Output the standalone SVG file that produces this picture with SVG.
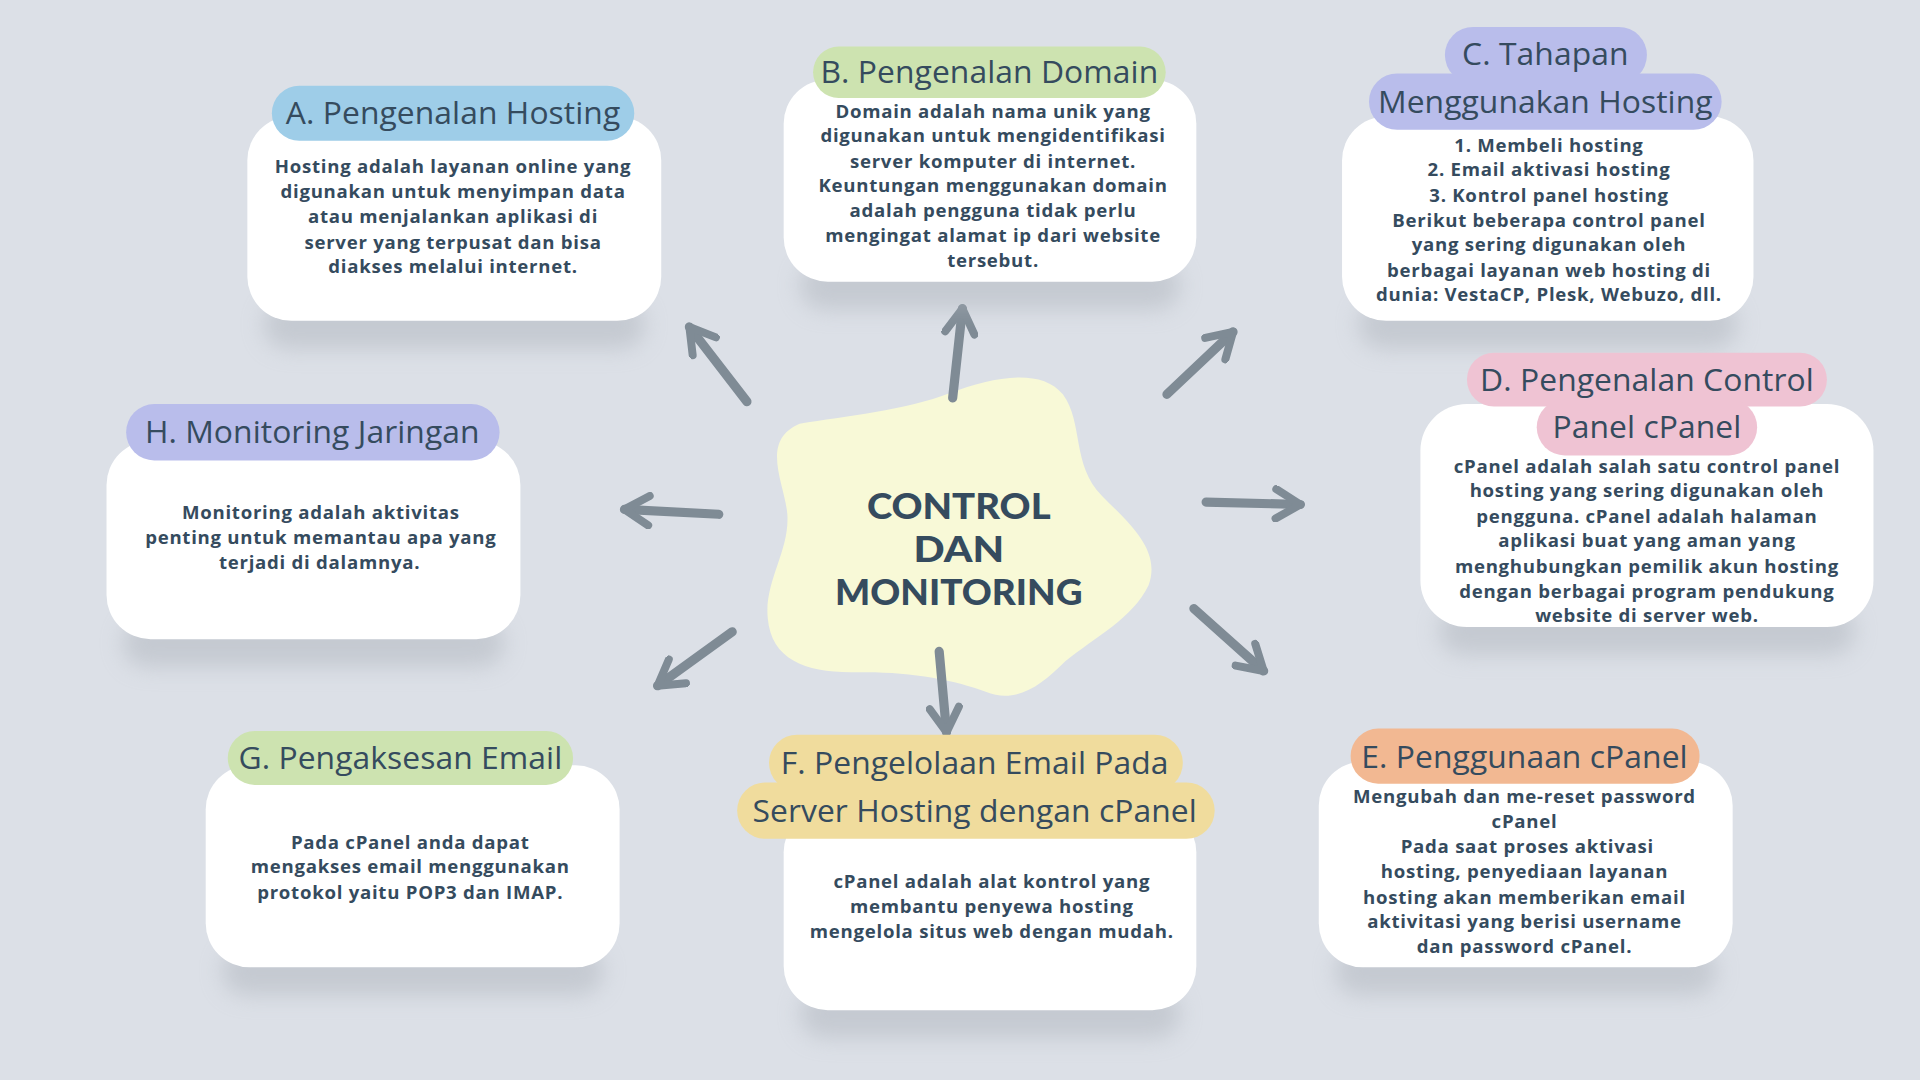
<svg xmlns="http://www.w3.org/2000/svg" width="1920" height="1080" viewBox="0 0 1920 1080">
<defs>
<style>
.card{fill:#ffffff}
.shadow{fill:#aeb4bc;opacity:0.5;filter:url(#blur)}
.title{font-family:"Open Sans","Noto Sans",sans-serif;font-size:26px;font-weight:400;letter-spacing:0.05px;fill:#354b5e;text-anchor:middle}
.body{font-family:"Open Sans","Noto Sans",sans-serif;font-size:15.2px;font-weight:700;letter-spacing:0.6px;fill:#354b5e;text-anchor:middle}
.center{font-family:"Lato","Open Sans",sans-serif;font-size:29px;font-weight:900;fill:#354b5e;text-anchor:middle}
.arrow{fill:none;stroke:#7f8b95;stroke-width:7.5;stroke-linecap:round;stroke-linejoin:round}
.pa{fill:#9ecde8}.pb{fill:#cde3b0}.pc{fill:#b9bdeb}.pd{fill:#efc3d3}.pe{fill:#f2b892}.pf{fill:#f0dc9d}
</style>
<filter id="blur" x="-20%" y="-50%" width="140%" height="200%"><feGaussianBlur stdDeviation="9"/></filter>
<marker id="head" markerUnits="userSpaceOnUse" viewBox="0 0 30 30" refX="25" refY="15" markerWidth="30" markerHeight="30" orient="auto">
<path d="M 5 3 L 25 15 L 5 27" fill="none" stroke="#7f8b95" stroke-width="6.5" stroke-linecap="round" stroke-linejoin="round"/>
</marker>
</defs>
<rect width="1920" height="1080" fill="#dce0e7"/>
<g transform="scale(1.22449)">
<g id="center-node">
<path d="M 653,346 C 690,340 740,335 776,321 C 810,308 850,300 868,322 C 885,345 875,380 900,405 C 925,430 948,450 938,478 C 925,505 895,520 870,540 C 850,560 830,575 805,565 C 780,555 740,548 700,549 C 660,550 630,540 627,505 C 624,475 645,450 643,420 C 641,395 620,360 653,346 Z" fill="#f8f9d7"/>
<text class="center" x="783" y="424" textLength="150" lengthAdjust="spacingAndGlyphs">CONTROL</text>
<text class="center" x="783" y="459" textLength="74" lengthAdjust="spacingAndGlyphs">DAN</text>
<text class="center" x="783" y="494" textLength="202" lengthAdjust="spacingAndGlyphs">MONITORING</text>
</g>
<g id="connectors">
<path class="arrow" d="M 610,328 L 563,267" marker-end="url(#head)"/>
<path class="arrow" d="M 778,325 L 786,252" marker-end="url(#head)"/>
<path class="arrow" d="M 953,322 L 1007,271" marker-end="url(#head)"/>
<path class="arrow" d="M 985,410 L 1062,412" marker-end="url(#head)"/>
<path class="arrow" d="M 975,497 L 1032,548" marker-end="url(#head)"/>
<path class="arrow" d="M 767,532 L 773,598" marker-end="url(#head)"/>
<path class="arrow" d="M 598,516 L 537,560" marker-end="url(#head)"/>
<path class="arrow" d="M 587,420 L 510,416" marker-end="url(#head)"/>
</g>
<g id="node-a">
<rect class="shadow" x="215" y="245" width="312" height="40" rx="20"/>
<rect class="card" x="202" y="95" width="338" height="167" rx="36"/>
<rect class="pa" x="222" y="70" width="296" height="45" rx="22.5"/>
<text class="title" x="370" y="101">A. Pengenalan Hosting</text>
<text class="body"><tspan x="370" y="141">Hosting adalah layanan online yang</tspan><tspan x="370" y="162">digunakan untuk menyimpan data</tspan><tspan x="370" y="182">atau menjalankan aplikasi di</tspan><tspan x="370" y="203">server yang terpusat dan bisa</tspan><tspan x="370" y="223">diakses melalui internet.</tspan></text>
</g>
<g id="node-b">
<rect class="shadow" x="653" y="213" width="311" height="40" rx="20"/>
<rect class="card" x="640" y="65" width="337" height="165" rx="36"/>
<rect class="pb" x="664" y="38" width="288" height="42" rx="21"/>
<text class="title" x="808" y="68">B. Pengenalan Domain</text>
<text class="body"><tspan x="811" y="96">Domain adalah nama unik yang</tspan><tspan x="811" y="116">digunakan untuk mengidentifikasi</tspan><tspan x="811" y="137">server komputer di internet.</tspan><tspan x="811" y="157">Keuntungan menggunakan domain</tspan><tspan x="811" y="177">adalah pengguna tidak perlu</tspan><tspan x="811" y="198">mengingat alamat ip dari website</tspan><tspan x="811" y="218">tersebut.</tspan></text>
</g>
<g id="node-c">
<rect class="shadow" x="1109" y="245" width="310" height="40" rx="20"/>
<rect class="card" x="1096" y="95" width="336" height="167" rx="36"/>
<rect class="pc" x="1180" y="22" width="165" height="46" rx="23"/>
<rect class="pc" x="1118" y="60" width="288" height="46" rx="23"/>
<text class="title" x="1262" y="53">C. Tahapan</text>
<text class="title" x="1262" y="92">Menggunakan Hosting</text>
<text class="body"><tspan x="1265" y="124">1. Membeli hosting</tspan><tspan x="1265" y="144">2. Email aktivasi hosting</tspan><tspan x="1265" y="165">3. Kontrol panel hosting</tspan><tspan x="1265" y="185">Berikut beberapa control panel</tspan><tspan x="1265" y="205">yang sering digunakan oleh</tspan><tspan x="1265" y="226">berbagai layanan web hosting di</tspan><tspan x="1265" y="246">dunia: VestaCP, Plesk, Webuzo, dll.</tspan></text>
</g>
<g id="node-d">
<rect class="shadow" x="1175" y="495" width="340" height="40" rx="20"/>
<rect class="card" x="1160" y="330" width="370" height="182" rx="38"/>
<rect class="pd" x="1198" y="288" width="294" height="44" rx="22"/>
<rect class="pd" x="1255" y="326" width="180" height="46" rx="23"/>
<text class="title" x="1345" y="319">D. Pengenalan Control</text>
<text class="title" x="1345" y="358">Panel cPanel</text>
<text class="body"><tspan x="1345" y="386">cPanel adalah salah satu control panel</tspan><tspan x="1345" y="406">hosting yang sering digunakan oleh</tspan><tspan x="1345" y="427">pengguna. cPanel adalah halaman</tspan><tspan x="1345" y="447">aplikasi buat yang aman yang</tspan><tspan x="1345" y="468">menghubungkan pemilik akun hosting</tspan><tspan x="1345" y="488">dengan berbagai program pendukung</tspan><tspan x="1345" y="508">website di server web.</tspan></text>
</g>
<g id="node-e">
<rect class="shadow" x="1090" y="773" width="312" height="40" rx="20"/>
<rect class="card" x="1077" y="622" width="338" height="168" rx="36"/>
<rect class="pe" x="1103" y="595" width="285" height="45" rx="22.5"/>
<text class="title" x="1245" y="627">E. Penggunaan cPanel</text>
<text class="body"><tspan x="1245" y="656">Mengubah dan me-reset password</tspan><tspan x="1245" y="676">cPanel</tspan><tspan x="1245" y="697"> Pada saat proses aktivasi</tspan><tspan x="1245" y="717">hosting, penyediaan layanan</tspan><tspan x="1245" y="738">hosting akan memberikan email</tspan><tspan x="1245" y="758">aktivitasi yang berisi username</tspan><tspan x="1245" y="778">dan password cPanel.</tspan></text>
</g>
<g id="node-f">
<rect class="shadow" x="653" y="808" width="311" height="40" rx="20"/>
<rect class="card" x="640" y="660" width="337" height="165" rx="36"/>
<rect class="pf" x="628" y="600" width="338" height="46" rx="23"/>
<rect class="pf" x="602" y="639" width="390" height="46" rx="23"/>
<text class="title" x="796" y="632">F. Pengelolaan Email Pada</text>
<text class="title" x="796" y="671">Server Hosting dengan cPanel</text>
<text class="body"><tspan x="810" y="725">cPanel adalah alat kontrol yang</tspan><tspan x="810" y="746">membantu penyewa hosting</tspan><tspan x="810" y="766">mengelola situs web dengan mudah.</tspan></text>
</g>
<g id="node-g">
<rect class="shadow" x="181" y="773" width="312" height="40" rx="20"/>
<rect class="card" x="168" y="625" width="338" height="165" rx="36"/>
<rect class="pb" x="186" y="597" width="282" height="44" rx="22"/>
<text class="title" x="327" y="628">G. Pengaksesan Email</text>
<text class="body"><tspan x="335" y="693">Pada cPanel anda dapat</tspan><tspan x="335" y="713">mengakses email menggunakan</tspan><tspan x="335" y="734">protokol yaitu POP3 dan IMAP.</tspan></text>
</g>
<g id="node-h">
<rect class="shadow" x="100" y="505" width="312" height="40" rx="20"/>
<rect class="card" x="87" y="360" width="338" height="162" rx="36"/>
<rect class="pc" x="103" y="330" width="305" height="46" rx="23"/>
<text class="title" x="255" y="362">H. Monitoring Jaringan</text>
<text class="body"><tspan x="262" y="424">Monitoring adalah aktivitas</tspan><tspan x="262" y="444">penting untuk memantau apa yang</tspan><tspan x="261" y="465">terjadi di dalamnya.</tspan></text>
</g>
</g>
</svg>
